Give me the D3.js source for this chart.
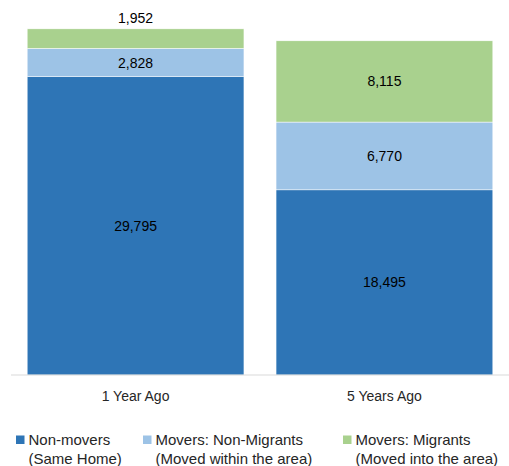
<!DOCTYPE html>
<html>
<head>
<meta charset="utf-8">
<script src="https://cdn.jsdelivr.net/npm/d3@7"></script>
<style>
  html, body { margin: 0; padding: 0; background: #fff; }
  svg { display: block; font-family: "Liberation Sans", Arial, sans-serif; }
</style>
</head>
<body>
<svg id="chart" width="509" height="466"></svg>
<script>
// Residence one and five years ago, stacked by mobility status
const categories = ["1 Year Ago", "5 Years Ago"];
const seriesNames = ["Non-movers", "Movers: Non-Migrants", "Movers: Migrants"];
const seriesSubNames = ["(Same Home)", "(Moved within the area)", "(Moved into the area)"];
const nonMovers = [29795, 18495];
const nonMigrants = [2828, 6770];
const migrants = [1952, 8115];
const colors = ["#2E75B6", "#9DC3E6", "#A9D18E"];

const svg = d3.select("#chart");
const fmt = d3.format(",");

const rows = categories.map((c, i) => ({
  cat: c, s0: nonMovers[i], s1: nonMigrants[i], s2: migrants[i]
}));
const stack = d3.stack().keys(["s0", "s1", "s2"]);
const layers = stack(rows);

const x = d3.scaleBand().domain(categories).range([11, 509]).paddingInner(0.129).paddingOuter(0.065);
const y = d3.scaleLinear().domain([0, 35000]).range([375, 24.6]);

const g = svg.append("g");

// bars
layers.forEach((layer, li) => {
  g.selectAll(null).data(layer).enter().append("rect")
    .attr("x", d => x(d.data.cat))
    .attr("width", x.bandwidth())
    .attr("y", d => y(d[1]))
    .attr("height", d => y(d[0]) - y(d[1]))
    .attr("fill", colors[li])
    .attr("stroke", "#fff")
    .attr("stroke-width", 0.5);
});

// value labels
layers.forEach((layer, li) => {
  g.selectAll(null).data(layer).enter().append("text")
    .attr("x", d => x(d.data.cat) + x.bandwidth() / 2)
    .attr("y", d => {
      const h = y(d[0]) - y(d[1]);
      if (h < 24) return y(d[1]) - 6;          // small segment: label above the bar
      return (y(d[0]) + y(d[1])) / 2 + 5;
    })
    .attr("text-anchor", "middle")
    .attr("font-size", 14)
    .attr("fill", "#000")
    .text(d => fmt(d[1] - d[0]));
});

// baseline
g.append("line")
  .attr("x1", 11).attr("x2", 509)
  .attr("y1", y(0)).attr("y2", y(0))
  .attr("stroke", "#D9D9D9").attr("stroke-width", 1);

// category axis
const xAxis = d3.axisBottom(x).tickSize(0).tickPadding(0);
const ax = g.append("g").attr("transform", `translate(0,${y(0)})`).call(xAxis);
ax.select(".domain").remove();
ax.selectAll("text")
  .attr("dy", 0).attr("y", 26)
  .attr("font-size", 14)
  .attr("font-family", "Liberation Sans, Arial, sans-serif")
  .attr("fill", "#262626");

// legend
const legendX = [16, 143, 343];
const leg = svg.append("g");
seriesNames.forEach((name, i) => {
  const lg = leg.append("g").attr("transform", `translate(${legendX[i]},0)`);
  lg.append("rect").attr("x", 0).attr("y", 435.5).attr("width", 8.5).attr("height", 8.5).attr("fill", colors[i]);
  lg.append("text").attr("x", 12.5).attr("y", 444.5).attr("font-size", 15).attr("fill", "#262626").text(name);
  lg.append("text").attr("x", 12.5).attr("y", 463.5).attr("font-size", 15).attr("fill", "#262626").text(seriesSubNames[i]);
});
</script>
</body>
</html>
